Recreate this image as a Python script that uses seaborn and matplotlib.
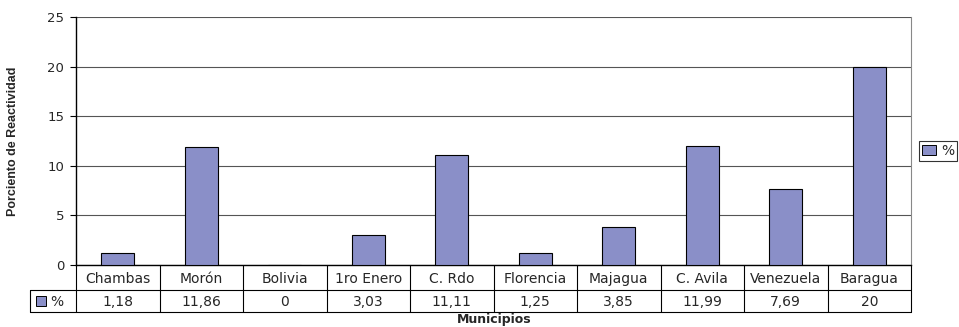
import matplotlib
matplotlib.use("Agg")
import matplotlib.pyplot as plt
import matplotlib.transforms as mtransforms
from matplotlib.patches import Patch, Rectangle
import seaborn as sns
import pandas as pd

municipios = ["Chambas", "Morón", "Bolivia", "1ro Enero", "C. Rdo",
              "Florencia", "Majagua", "C. Avila", "Venezuela", "Baragua"]
porciento = [1.18, 11.86, 0, 3.03, 11.11, 1.25, 3.85, 11.99, 7.69, 20]
etiquetas = ["1,18", "11,86", "0", "3,03", "11,11", "1,25", "3,85", "11,99", "7,69", "20"]
yticks = [0, 5, 10, 15, 20, 25]

bar_color = "#8A8FC8"

sns.set_style("white")
plt.rcParams["font.family"] = ["DejaVu Sans"]

df = pd.DataFrame({"Municipio": municipios, "Porciento": porciento})

fig = plt.figure(figsize=(9.59, 3.27), dpi=100)
ax = fig.add_axes([76 / 959, 1 - 265 / 327, 835 / 959, 248 / 327])

sns.barplot(data=df, x="Municipio", y="Porciento", color=bar_color, width=0.4,
            edgecolor="black", linewidth=0.8, saturation=1, ax=ax, zorder=3)

ax.set_ylim(0, 25)
ax.set_xlim(-0.5, len(municipios) - 0.5)
ax.set_yticks(yticks)
ax.set_yticklabels([str(t) for t in yticks], fontsize=9.5)
ax.tick_params(axis="y", length=4.5, width=0.8, color="black", direction="out", left=True, pad=4)
ax.set_xticks([])
ax.set_xlabel("")
ax.yaxis.grid(True, color="#555555", linewidth=0.8)
ax.set_axisbelow(True)
ax.set_ylabel("Porciento de Reactividad", fontsize=9, fontweight="bold",
              family="Liberation Sans", labelpad=20)
ax.spines["right"].set_color("#888888")
ax.spines["right"].set_linewidth(0.8)
ax.spines["top"].set_visible(False)
ax.spines["left"].set_color("black")
ax.spines["left"].set_linewidth(1)
ax.spines["bottom"].set_color("black")
ax.spines["bottom"].set_linewidth(1)

# data table below the plot
trans = mtransforms.blended_transform_factory(ax.transData, ax.transAxes)
n = len(municipios)
r1 = -25 / 248
r2 = -47 / 248
hdr = -0.5 - 46 / 835 * n
lc = "black"
lw = 0.8
ax.plot([hdr, n - 0.5], [r1, r1], transform=trans, color=lc, lw=lw, clip_on=False)
ax.plot([hdr, n - 0.5], [r2, r2], transform=trans, color=lc, lw=lw, clip_on=False)
ax.plot([hdr, hdr], [r1, r2], transform=trans, color=lc, lw=lw, clip_on=False)
ax.plot([-0.5, -0.5], [0, r2], transform=trans, color=lc, lw=lw, clip_on=False)
for i in range(n):
    ax.plot([i + 0.5, i + 0.5], [0, r2], transform=trans, color=lc, lw=lw, clip_on=False)
    ax.text(i, r1 / 2, municipios[i], transform=trans, ha="center", va="center_baseline",
            fontsize=10)
    ax.text(i, (r1 + r2) / 2, etiquetas[i], transform=trans, ha="center",
            va="center_baseline", fontsize=10)

# header cell swatch
sw = Rectangle((hdr + 0.07, (r1 + r2) / 2 - 0.02), 0.12, 0.04, transform=trans,
               facecolor=bar_color, edgecolor="black", lw=0.7, clip_on=False)
ax.add_patch(sw)
ax.text(hdr + 0.24, (r1 + r2) / 2, "%", transform=trans, ha="left",
        va="center_baseline", fontsize=10)

fig.text(494 / 959, 1 - 320 / 327, "Municipios", ha="center", va="center",
         fontsize=9, fontweight="bold")

handles = [Patch(facecolor=bar_color, edgecolor="black", linewidth=0.7, label="%")]
leg = fig.legend(handles=handles, loc="center left", bbox_to_anchor=(919 / 959, 1 - 151 / 327),
                 fontsize=10, frameon=True, fancybox=False, handlelength=1.0, handleheight=0.7,
                 handletextpad=0.4, borderpad=0.2, borderaxespad=0)
leg.get_frame().set_edgecolor("black")
leg.get_frame().set_linewidth(0.8)

fig.savefig("out.png", dpi=100)
